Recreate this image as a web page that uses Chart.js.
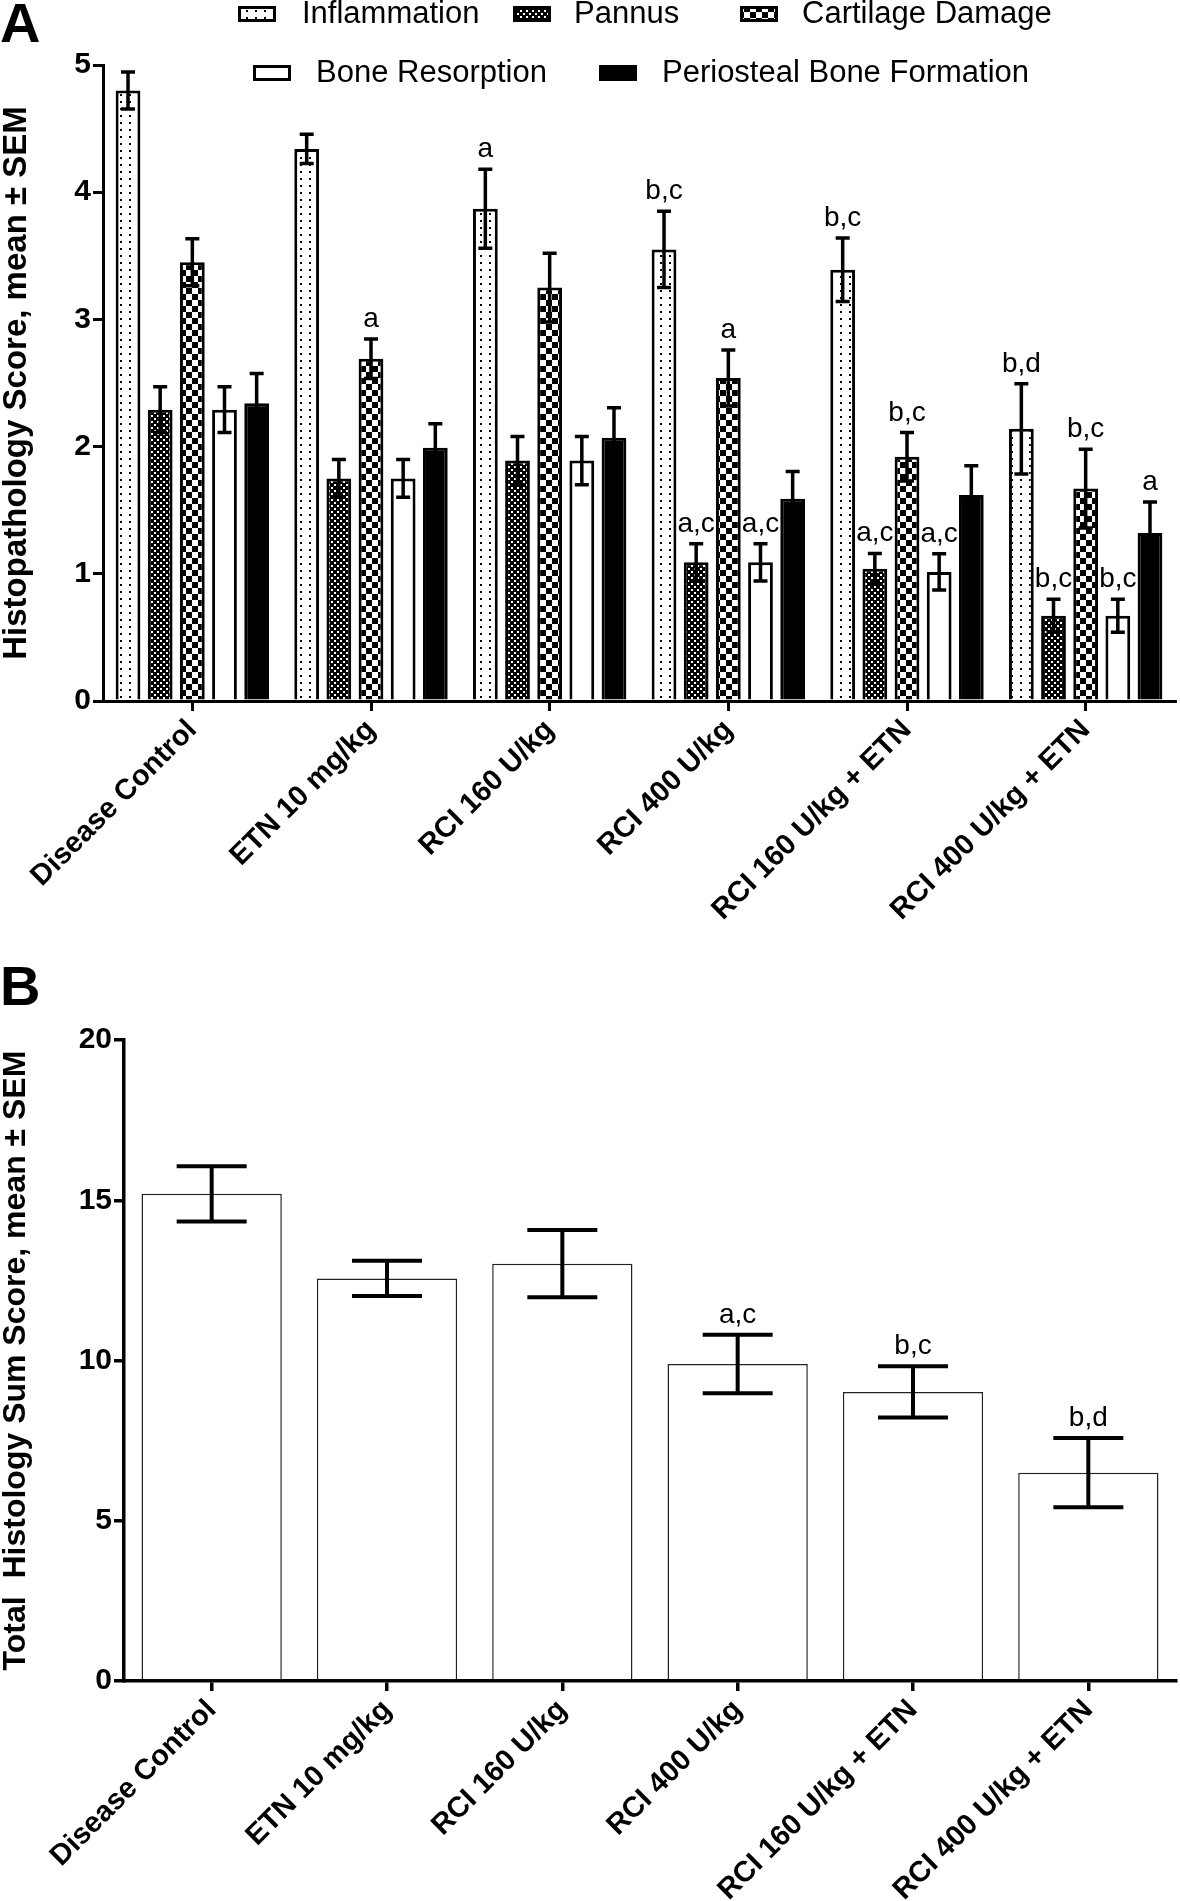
<!DOCTYPE html>
<html>
<head>
<meta charset="utf-8">
<title>Histopathology scores</title>
<script src="https://cdn.jsdelivr.net/npm/chart.js"></script>
<style>
  body { margin: 0; background: #fff; }
  canvas { position: absolute; left: 0; }
  #chartA { top: 0; }
  #chartB { top: 950px; }
</style>
</head>
<body>
<canvas id="chartA" width="1180" height="950"></canvas>
<canvas id="chartB" width="1180" height="951"></canvas>
<script>
// groups on the x axis (same for both panels)
const categories = ['Disease Control', 'ETN 10 mg/kg', 'RCI 160 U/kg', 'RCI 400 U/kg', 'RCI 160 U/kg + ETN', 'RCI 400 U/kg + ETN'];

// panel A: mean scores, SEM and significance letters per series
const inflammation = [4.80, 4.34, 3.87, 3.55, 3.39, 2.14];
const inflammationSem = [0.145, 0.115, 0.31, 0.30, 0.25, 0.355];
const inflammationSig = ['', '', 'a', 'b,c', 'b,c', 'b,d'];

const pannus = [2.29, 1.75, 1.89, 1.09, 1.04, 0.67];
const pannusSem = [0.18, 0.148, 0.19, 0.146, 0.12, 0.13];
const pannusSig = ['', '', '', 'a,c', 'a,c', 'b,c'];

const cartilage = [3.45, 2.69, 3.25, 2.54, 1.92, 1.67];
const cartilageSem = [0.185, 0.155, 0.27, 0.22, 0.19, 0.31];
const cartilageSig = ['', 'a', '', 'a', 'b,c', 'b,c'];

const boneResorption = [2.29, 1.75, 1.89, 1.09, 1.015, 0.67];
const boneResorptionSem = [0.18, 0.148, 0.19, 0.146, 0.143, 0.13];
const boneResorptionSig = ['', '', '', 'a,c', 'a,c', 'b,c'];

const periosteal = [2.34, 1.99, 2.07, 1.59, 1.62, 1.32];
const periostealSem = [0.235, 0.19, 0.235, 0.215, 0.23, 0.245];
const periostealSig = ['', '', '', '', '', 'a'];

// panel B: total histology sum score
const totalScore = [15.2, 12.56, 13.02, 9.89, 9.02, 6.50];
const totalScoreSem = [0.86, 0.55, 1.05, 0.91, 0.80, 1.08];
const totalScoreSig = ['', '', '', 'a,c', 'b,c', 'b,d'];

const yTicksA = [0, 1, 2, 3, 4, 5];
const yTicksB = [0, 5, 10, 15, 20];

const FONT = "'Liberation Sans', Arial, Helvetica, sans-serif";

function makePattern(w, h, draw) {
    const c = document.createElement('canvas');
    c.width = w;
    c.height = h;
    const g = c.getContext('2d');
    draw(g);
    return g.createPattern(c, 'repeat');
}

// sparse dots
const dotPattern = makePattern(9, 7, g => {
    g.fillStyle = '#fff'; g.fillRect(0, 0, 9, 7);
    g.fillStyle = '#000'; g.fillRect(3, 3, 2, 2);
});
// fine dense checker (looks dark grey)
const finePattern = makePattern(6, 6, g => {
    g.fillStyle = '#000'; g.fillRect(0, 0, 6, 6);
    g.fillStyle = '#fff'; g.fillRect(1, 1, 2, 2); g.fillRect(4, 4, 2, 2);
});
// big checkerboard
const checkPattern = makePattern(12, 12, g => {
    g.fillStyle = '#000'; g.fillRect(0, 0, 12, 12);
    g.fillStyle = '#fff'; g.fillRect(0, 0, 6, 6); g.fillRect(6, 6, 6, 6);
});

// error bars + letters drawn from each dataset's sem / sig arrays
const errorBarPlugin = {
    id: 'errorBars',
    afterDatasetsDraw(chart, args, opts) {
        const ctx = chart.ctx;
        const yScale = chart.scales.y;
        ctx.save();
        chart.data.datasets.forEach((ds, i) => {
            const meta = chart.getDatasetMeta(i);
            meta.data.forEach((bar, j) => {
                const v = ds.data[j];
                const s = ds.sem[j];
                const yTop = yScale.getPixelForValue(v + s);
                const yBot = yScale.getPixelForValue(v - s);
                const half = opts.capWidth / 2;
                ctx.strokeStyle = '#000';
                ctx.lineWidth = opts.lineWidth;
                ctx.lineCap = 'butt';
                ctx.beginPath();
                ctx.moveTo(bar.x, yTop);
                ctx.lineTo(bar.x, yBot);
                ctx.moveTo(bar.x - half, yTop);
                ctx.lineTo(bar.x + half, yTop);
                ctx.moveTo(bar.x - half, yBot);
                ctx.lineTo(bar.x + half, yBot);
                ctx.stroke();
                if (ds.sig[j]) {
                    ctx.fillStyle = '#000';
                    ctx.font = '28px ' + FONT;
                    ctx.textAlign = 'center';
                    ctx.textBaseline = 'alphabetic';
                    ctx.fillText(ds.sig[j], bar.x, yTop - 12);
                }
            });
        });
        ctx.restore();
    }
};

const panelLetterPlugin = {
    id: 'panelLetter',
    afterDraw(chart, args, opts) {
        const ctx = chart.ctx;
        ctx.save();
        ctx.fillStyle = '#000';
        ctx.font = 'bold 56px ' + FONT;
        ctx.textAlign = 'left';
        ctx.textBaseline = 'alphabetic';
        ctx.fillText(opts.text, opts.x, opts.y);
        ctx.restore();
    }
};

// legend of panel A, two rows like the figure
const legendSpots = [
    { x: 238, y: 6, textX: 302 },
    { x: 513, y: 6, textX: 574 },
    { x: 740, y: 6, textX: 802 },
    { x: 253, y: 65, textX: 316 },
    { x: 599, y: 65, textX: 662 }
];
const patternLegendPlugin = {
    id: 'patternLegend',
    afterDraw(chart) {
        const ctx = chart.ctx;
        ctx.save();
        chart.data.datasets.forEach((ds, i) => {
            const p = legendSpots[i];
            ctx.fillStyle = ds.backgroundColor;
            ctx.fillRect(p.x, p.y, 38, 16);
            ctx.strokeStyle = '#000';
            ctx.lineWidth = 3;
            ctx.strokeRect(p.x + 1.5, p.y + 1.5, 35, 13);
            ctx.fillStyle = '#000';
            ctx.font = '31px ' + FONT;
            ctx.textAlign = 'left';
            ctx.textBaseline = 'middle';
            ctx.fillText(ds.label, p.textX, p.y + 8);
        });
        ctx.restore();
    }
};

function axisOptions(ticks, title, titleSize, yWidth, xHeight, lineW) {
    return {
        x: {
            type: 'category',
            offset: true,
            grid: { drawOnChartArea: false, drawTicks: true, tickLength: 10, offset: false, color: '#000', lineWidth: lineW },
            border: { color: '#000', width: lineW },
            ticks: {
                color: '#000',
                font: { family: FONT, size: 29, weight: 'bold' },
                minRotation: 45,
                maxRotation: 45,
                autoSkip: false,
                padding: 2
            },
            afterFit(s) { s.height = xHeight; }
        },
        y: {
            min: ticks[0],
            max: ticks[ticks.length - 1],
            afterBuildTicks(s) { s.ticks = ticks.map(v => ({ value: v })); },
            grid: { drawOnChartArea: false, drawTicks: true, tickLength: 10, color: '#000', lineWidth: lineW },
            border: { color: '#000', width: lineW },
            ticks: {
                color: '#000',
                font: { family: FONT, size: 30, weight: 'bold' },
                padding: 2
            },
            title: {
                display: true,
                text: title,
                color: '#000',
                font: { family: FONT, size: titleSize, weight: 'bold', lineHeight: 1 },
                padding: 0
            },
            afterFit(s) { s.width = yWidth; }
        }
    };
}

new Chart(document.getElementById('chartA'), {
    type: 'bar',
    data: {
        labels: categories,
        datasets: [
            { label: 'Inflammation', data: inflammation, sem: inflammationSem, sig: inflammationSig, backgroundColor: dotPattern },
            { label: 'Pannus', data: pannus, sem: pannusSem, sig: pannusSig, backgroundColor: finePattern },
            { label: 'Cartilage Damage', data: cartilage, sem: cartilageSem, sig: cartilageSig, backgroundColor: checkPattern },
            { label: 'Bone Resorption', data: boneResorption, sem: boneResorptionSem, sig: boneResorptionSig, backgroundColor: '#fff' },
            { label: 'Periosteal Bone Formation', data: periosteal, sem: periostealSem, sig: periostealSig, backgroundColor: '#000' }
        ].map(d => Object.assign(d, { borderColor: '#000', borderWidth: 3, categoryPercentage: 0.9, barPercentage: 0.77 }))
    },
    options: {
        responsive: false,
        animation: false,
        layout: { padding: { top: 65, right: 5, left: 0, bottom: 0 } },
        plugins: {
            legend: { display: false },
            tooltip: { enabled: false },
            errorBars: { capWidth: 14, lineWidth: 3.5 },
            panelLetter: { text: 'A', x: 0, y: 42 }
        },
        scales: axisOptions(yTicksA, 'Histopathology Score, mean \u00b1 SEM', 33, 103, 249, 3)
    },
    plugins: [errorBarPlugin, panelLetterPlugin, patternLegendPlugin]
});

new Chart(document.getElementById('chartB'), {
    type: 'bar',
    data: {
        labels: categories,
        datasets: [
            { label: 'Total Histology Sum Score', data: totalScore, sem: totalScoreSem, sig: totalScoreSig,
              backgroundColor: '#fff', borderColor: '#222', borderWidth: 1.5, categoryPercentage: 1, barPercentage: 0.8 }
        ]
    },
    options: {
        responsive: false,
        animation: false,
        layout: { padding: { top: 90, right: 4, left: 0, bottom: 0 } },
        plugins: {
            legend: { display: false },
            tooltip: { enabled: false },
            errorBars: { capWidth: 70, lineWidth: 4 },
            panelLetter: { text: 'B', x: 0, y: 55 }
        },
        scales: axisOptions(yTicksB, 'Total  Histology Sum Score, mean \u00b1 SEM', 32, 124, 220, 3.5)
    },
    plugins: [errorBarPlugin, panelLetterPlugin]
});
</script>
</body>
</html>
